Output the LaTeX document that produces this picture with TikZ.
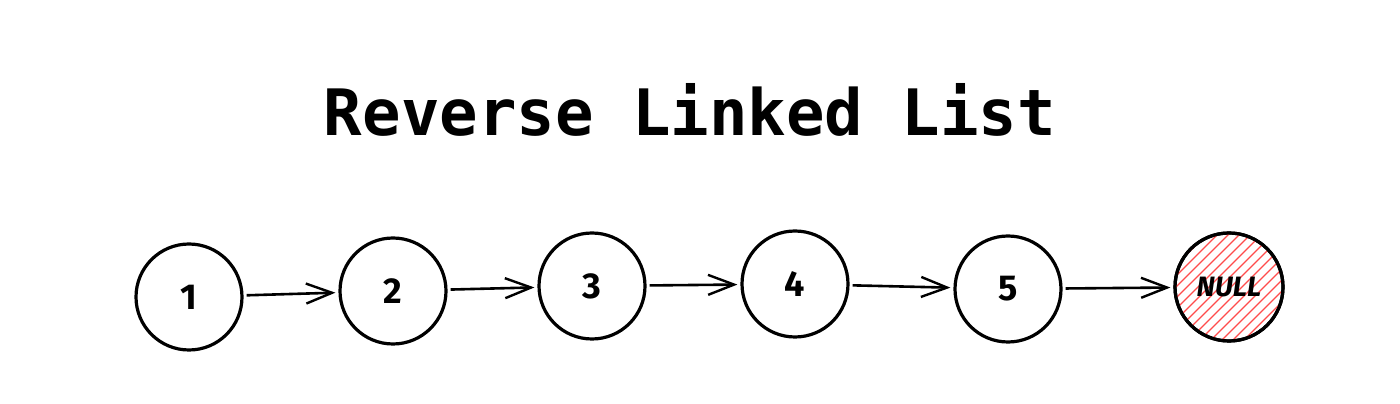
\documentclass[tikz,border=0pt]{standalone}
\usepackage{fontspec}
\newfontfamily\titlefont{DejaVu Sans Mono}
\newfontfamily\numfont{Fira Sans}
\usetikzlibrary{arrows.meta,calc}
\begin{document}
\begin{tikzpicture}[x=1pt,y=1pt,
  listnode/.style={circle,draw=black,line width=3.2pt,minimum size=106pt,inner sep=0pt,font=\numfont\bfseries\fontsize{36}{36}\selectfont},
  link/.style={line width=2.6pt,-{Straight Barb[length=26pt,width=20pt,line width=2.4pt]},shorten >=3pt,shorten <=3pt}]
\useasboundingbox (0,0) rectangle (1400,404);
\fill[white] (0,0) rectangle (1400,404);
\node[font=\titlefont\bfseries\fontsize{64}{64}\selectfont] (title) at (690,294) {Reverse Linked List};
\node[listnode] (n1) at (189,107) {1};
\node[listnode] (n2) at (393,113) {2};
\node[listnode] (n3) at (592,118) {3};
\node[listnode] (n4) at (795,120) {4};
\node[listnode] (n5) at (1008,115) {5};
\node[listnode,minimum size=108pt] (nn) at (1229,117) {};
\begin{scope}
  \clip (nn.center) circle (53pt);
  \foreach \k in {-130,-119,...,130}
    \draw[red!70,line width=1.3pt] ($(nn.center)+(\k-60,-60)$) -- ($(nn.center)+(\k+60,60)$);
\end{scope}
\node[listnode,minimum size=108pt,font=\numfont\bfseries\itshape\fontsize{28}{28}\selectfont] (nnull) at (1229,117) {NULL};
\draw[link] (n1) -- (n2);
\draw[link] (n2) -- (n3);
\draw[link] (n3) -- (n4);
\draw[link] (n4) -- (n5);
\draw[link] (n5) -- (nnull);
\end{tikzpicture}
\end{document}
